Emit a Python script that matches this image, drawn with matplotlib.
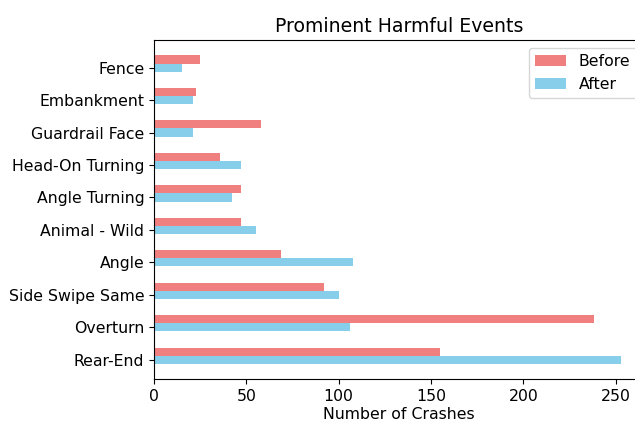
import matplotlib
matplotlib.use("Agg")

import matplotlib.pyplot as plt
import numpy as np


# crash counts per harmful event, listed top to bottom
events = [
    "Fence",
    "Embankment",
    "Guardrail Face",
    "Head-On Turning",
    "Angle Turning",
    "Animal - Wild",
    "Angle",
    "Side Swipe Same",
    "Overturn",
    "Rear-End",
]
before = [25, 23, 58, 36, 47, 47, 69, 92, 238, 155]
after = [15, 21, 21, 47, 42, 55, 108, 100, 106, 253]

plt.rcParams["font.size"] = 11.3


def plot_before_after(labels, series, title, x_label, height=0.25, save="out.png"):
    locations = np.arange(len(labels))

    fig = plt.figure(figsize=(6.35, 4.23), dpi=100)
    # axes run slightly past the right edge of the canvas
    ax = fig.add_axes([154 / 635, 43.7 / 423, 490.6 / 635, 339.3 / 423])

    colors = {"Before": "lightcoral", "After": "skyblue"}
    multiplier = 0
    for name, values in series.items():
        offset = height * multiplier
        ax.barh(locations + offset, values, height, label=name, color=colors[name])
        multiplier += 1

    ax.set_yticks(locations + height, labels)
    ax.invert_yaxis()
    ax.set_xlabel(x_label, labelpad=2)
    ax.set_title(title)
    ax.legend(loc="upper right")

    fig.savefig(save, dpi=100)


if __name__ == "__main__":
    plot_before_after(
        events,
        {"Before": before, "After": after},
        "Prominent Harmful Events",
        "Number of Crashes",
    )
